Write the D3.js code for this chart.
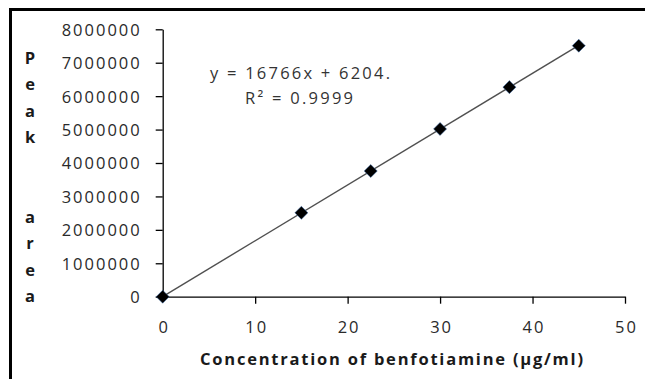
<!DOCTYPE html>
<html>
<head>
<meta charset="utf-8">
<script src="https://cdn.jsdelivr.net/npm/d3@7"></script>
<style>
  html, body { margin: 0; padding: 0; background: #fff; }
  svg { display: block; }
</style>
</head>
<body>
<div id="chart"></div>
<script>
// Données
const concentrations = [0, 15, 22.5, 30, 37.5, 45];
const peakAreas = [0, 2510000, 3760000, 5020000, 6270000, 7510000];
const xTicks = [0, 10, 20, 30, 40, 50];
const yTicks = [0, 1000000, 2000000, 3000000, 4000000, 5000000, 6000000, 7000000, 8000000];
const yTitleLetters = ['P', 'e', 'a', 'k', '', '', 'a', 'r', 'e', 'a'];
const equationLines = ['y = 16766x + 6204.', 'R\u00B2 = 0.9999'];
const xTitle = 'Concentration of  benfotiamine (\u00B5g/ml)';

const W = 645, H = 379;
const FONT = '"Open Sans", "DejaVu Sans", sans-serif';

const svg = d3.select('#chart').append('svg')
    .attr('width', W)
    .attr('height', H)
    .attr('viewBox', `0 0 ${W} ${H}`);

svg.append('rect').attr('width', W).attr('height', H).attr('fill', '#fff');

// Cadre (bord gauche et haut visibles seulement)
svg.append('path')
    .attr('d', `M10.5,${H + 2} V9.5 H${W + 2}`)
    .attr('fill', 'none')
    .attr('stroke', '#000')
    .attr('stroke-width', 3);

const x = d3.scaleLinear().domain([0, 50]).range([162.7, 625]);
const y = d3.scaleLinear().domain([0, 8000000]).range([296.7, 29.3]);

// Axe Y
const yAxis = svg.append('g')
    .attr('transform', `translate(${x(0)},0)`)
    .call(d3.axisLeft(y).tickValues(yTicks).tickFormat(d3.format('d'))
        .tickSize(7).tickSizeOuter(0).tickPadding(14));

// Axe X
const xAxis = svg.append('g')
    .attr('transform', `translate(0,${y(0)})`)
    .call(d3.axisBottom(x).tickValues(xTicks).tickFormat(d3.format('d'))
        .tickSize(7).tickSizeOuter(0));

[yAxis, xAxis].forEach(g => {
    g.select('.domain').attr('stroke', '#000').attr('stroke-width', 1.3);
    g.selectAll('.tick line').attr('stroke', '#000').attr('stroke-width', 1.3);
    g.selectAll('.tick text')
        .attr('fill', '#2a2a2a')
        .style('font-family', FONT)
        .style('font-size', '16.5px')
        .style('letter-spacing', '2px');
});
yAxis.selectAll('.tick text').attr('dy', '0.36em');
xAxis.selectAll('.tick text').attr('y', 36).attr('dy', 0).attr('dx', 1);
xAxis.selectAll('.tick').filter(d => d === 0).select('line').remove();

// Droite de régression (moindres carrés sur les points)
const mx = d3.mean(concentrations), my = d3.mean(peakAreas);
const slope = d3.sum(concentrations, (c, i) => (c - mx) * (peakAreas[i] - my)) /
    d3.sum(concentrations, c => (c - mx) * (c - mx));
const intercept = my - slope * mx;
const xMin = d3.min(concentrations), xMax = d3.max(concentrations);

svg.append('line')
    .attr('x1', x(xMin)).attr('y1', y(slope * xMin + intercept))
    .attr('x2', x(xMax)).attr('y2', y(slope * xMax + intercept))
    .attr('stroke', '#505050')
    .attr('stroke-width', 1.4);

// Marqueurs en losange
svg.selectAll('path.point')
    .data(concentrations)
    .enter()
    .append('path')
    .attr('class', 'point')
    .attr('d', d3.symbol().type(d3.symbolSquare).size(85))
    .attr('transform', (c, i) => `translate(${x(c)},${y(peakAreas[i])}) rotate(45)`)
    .attr('fill', '#000')
    .attr('stroke', '#3b6aa8')
    .attr('stroke-width', 0.8)
    .attr('stroke-opacity', 0.6);

// Équation
svg.selectAll('text.eq')
    .data(equationLines)
    .enter()
    .append('text')
    .attr('class', 'eq')
    .attr('x', (d, i) => i === 0 ? 210 : 245)
    .attr('y', (d, i) => 79 + i * 25)
    .attr('textLength', (d, i) => i === 0 ? 180 : 108)
    .attr('lengthAdjust', 'spacing')
    .attr('fill', '#333')
    .style('font-family', FONT)
    .style('font-size', '16.5px')
    .text(d => d);

// Titre de l'axe X
svg.append('text')
    .attr('x', 200)
    .attr('y', 365)
    .attr('textLength', 383)
    .attr('lengthAdjust', 'spacing')
    .attr('fill', '#1a1a1a')
    .style('font-family', FONT)
    .style('font-size', '16.5px')
    .style('font-weight', 'bold')
    .text(xTitle);

// Titre de l'axe Y (lettres empilées)
svg.selectAll('text.ytitle')
    .data(yTitleLetters)
    .enter()
    .append('text')
    .attr('class', 'ytitle')
    .attr('x', 30)
    .attr('y', (d, i) => 63.5 + i * 26.5)
    .attr('text-anchor', 'middle')
    .attr('fill', '#1a1a1a')
    .style('font-family', FONT)
    .style('font-size', '16.5px')
    .style('font-weight', 'bold')
    .text(d => d);
</script>
</body>
</html>
